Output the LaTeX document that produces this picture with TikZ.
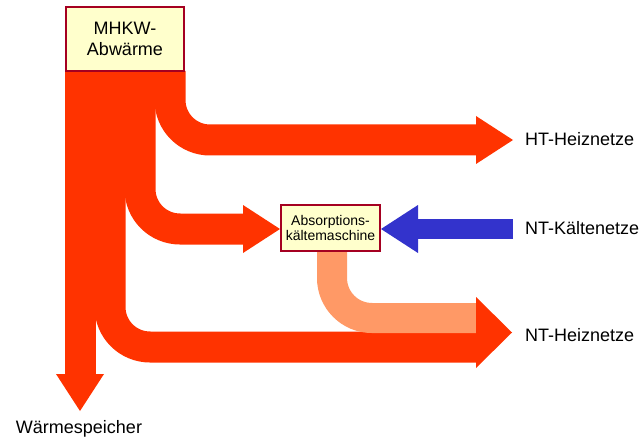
\documentclass[tikz,border=0pt]{standalone}
\usepackage{fontspec}
\setmainfont{Liberation Sans}
\definecolor{flowred}{HTML}{FF3300}
\definecolor{floworange}{HTML}{FF9966}
\definecolor{flowblue}{HTML}{3333CC}
\definecolor{boxfill}{HTML}{FFFFCC}
\definecolor{boxline}{HTML}{A50021}
\tikzset{
  band/.style={line width=31pt, line cap=butt, rounded corners=40pt},
  redband/.style={band, draw=flowred},
  headred/.style={fill=flowred, draw=none},
  boxnode/.style={draw=boxline, fill=boxfill, line width=2pt, align=center, inner sep=0pt},
  lbl/.style={inner sep=0pt, font=\fontsize{18}{21}\selectfont}
}
\begin{document}
\begin{tikzpicture}[x=1pt, y=-1pt]
\useasboundingbox (0,0) rectangle (640,441);
% coordinates
\coordinate (top1) at (80,71);
\coordinate (top2) at (110,71);
\coordinate (top3) at (140,71);
\coordinate (top4) at (170,71);
% red bands
\draw[redband] (top4) -- (170,140) -- (476,140);
\draw[redband] (top3) -- (140,229) -- (243,229);
\draw[redband] (top2) -- (110,347) -- (476,347);
\draw[redband] (top1) -- (80,375);
% orange band
\draw[band, draw=floworange, line width=30pt] (332,252) -- (332,318) -- (476,318);
% blue band
\draw[draw=flowblue, line width=20pt, line cap=butt] (513,229) -- (417,229);
% heads
\fill[headred] (476,116) -- (513,140) -- (476,164) -- cycle;
\fill[headred] (243,205) -- (280,229) -- (243,253) -- cycle;
\fill[headred] (476,297) -- (512,332.5) -- (476,368) -- cycle;
\fill[headred] (56,374) -- (80,411) -- (104,374) -- cycle;
\fill[fill=flowblue] (418,205) -- (381,229) -- (418,253) -- cycle;
% boxes
\node[boxnode, minimum width=118pt, minimum height=64pt, font=\fontsize{18}{21}\selectfont] (mhkw) at (125,39) {MHKW-\\Abwärme};
\node[boxnode, minimum width=99pt, minimum height=46pt, font=\fontsize{14}{14.5}\selectfont] (akm) at (330.5,228) {Absorptions-\\kältemaschine};
% labels
\node[lbl, anchor=base west] (ht) at (525,146) {HT-Heiznetze};
\node[lbl, anchor=base west] (ntk) at (525,234) {NT-Kältenetze};
\node[lbl, anchor=base west] (nth) at (525,341) {NT-Heiznetze};
\node[lbl, anchor=base] (ws) at (79,433) {Wärmespeicher};
\end{tikzpicture}
\end{document}
